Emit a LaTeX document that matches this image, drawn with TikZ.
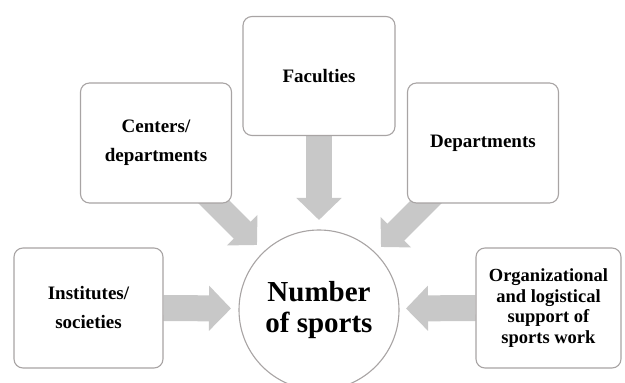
\documentclass[tikz,border=0pt]{standalone}
\usepackage{fontspec}
\setmainfont{Liberation Serif}
\usetikzlibrary{arrows.meta,backgrounds}
\definecolor{arrowgray}{HTML}{C8C8C8}
\definecolor{boxgray}{HTML}{A8A4A4}
\tikzset{
  box/.style={draw=boxgray, line width=1.1pt, fill=white, rounded corners=9pt,
    align=center, inner sep=2pt, font=\bfseries\fontsize{19}{29}\selectfont},
  hub/.style={draw=boxgray, line width=1.1pt, fill=white, circle, minimum size=160pt,
    align=center, inner sep=0pt, font=\bfseries\fontsize{29}{31}\selectfont},
  blockarrow/.style={draw=arrowgray, line width=26pt, line cap=butt,
    -{Triangle[length=22pt,width=44pt]}},
  diagarrow/.style={draw=arrowgray, line width=24pt, line cap=butt,
    -{Triangle[length=21pt,width=42pt]}}
}
\begin{document}
\begin{tikzpicture}[x=1pt,y=1pt]
\useasboundingbox (0,0) rectangle (625,383);
% boxes (centers, size)
\node[box, minimum width=152pt, minimum height=119pt] (fac) at (319,307) {Faculties};
\node[box, minimum width=151pt, minimum height=120pt] (cen) at (156,240) {Centers/\\departments};
\node[box, minimum width=151pt, minimum height=120pt] (dep) at (483,240) {Departments};
\node[box, minimum width=149pt, minimum height=120pt] (inst) at (88.5,75) {Institutes/\\societies};
\node[box, minimum width=145pt, minimum height=120pt,
      font=\bfseries\fontsize{18.5}{20.5}\selectfont] (org) at (548.5,75)
      {Organizational\\and logistical\\support of\\sports work};
\node[hub] (hub) at (319,73) {Number\\of sports};
% arrow end points
\coordinate (tipF) at (319,163);
\coordinate (tipI) at (231,74.5);
\coordinate (tipO) at (406,74.5);
\coordinate (tipC) at (257,138);
\coordinate (tipD) at (381,136);
\coordinate (startC) at (200,195);
\coordinate (startD) at (438,193);
\begin{scope}[on background layer]
  \draw[blockarrow] (fac.south) -- (tipF);
  \draw[blockarrow] (inst.east) -- (tipI);
  \draw[blockarrow] (org.west) -- (tipO);
  \draw[diagarrow] (startC) -- (tipC);
  \draw[diagarrow] (startD) -- (tipD);
\end{scope}
\end{tikzpicture}
\end{document}
